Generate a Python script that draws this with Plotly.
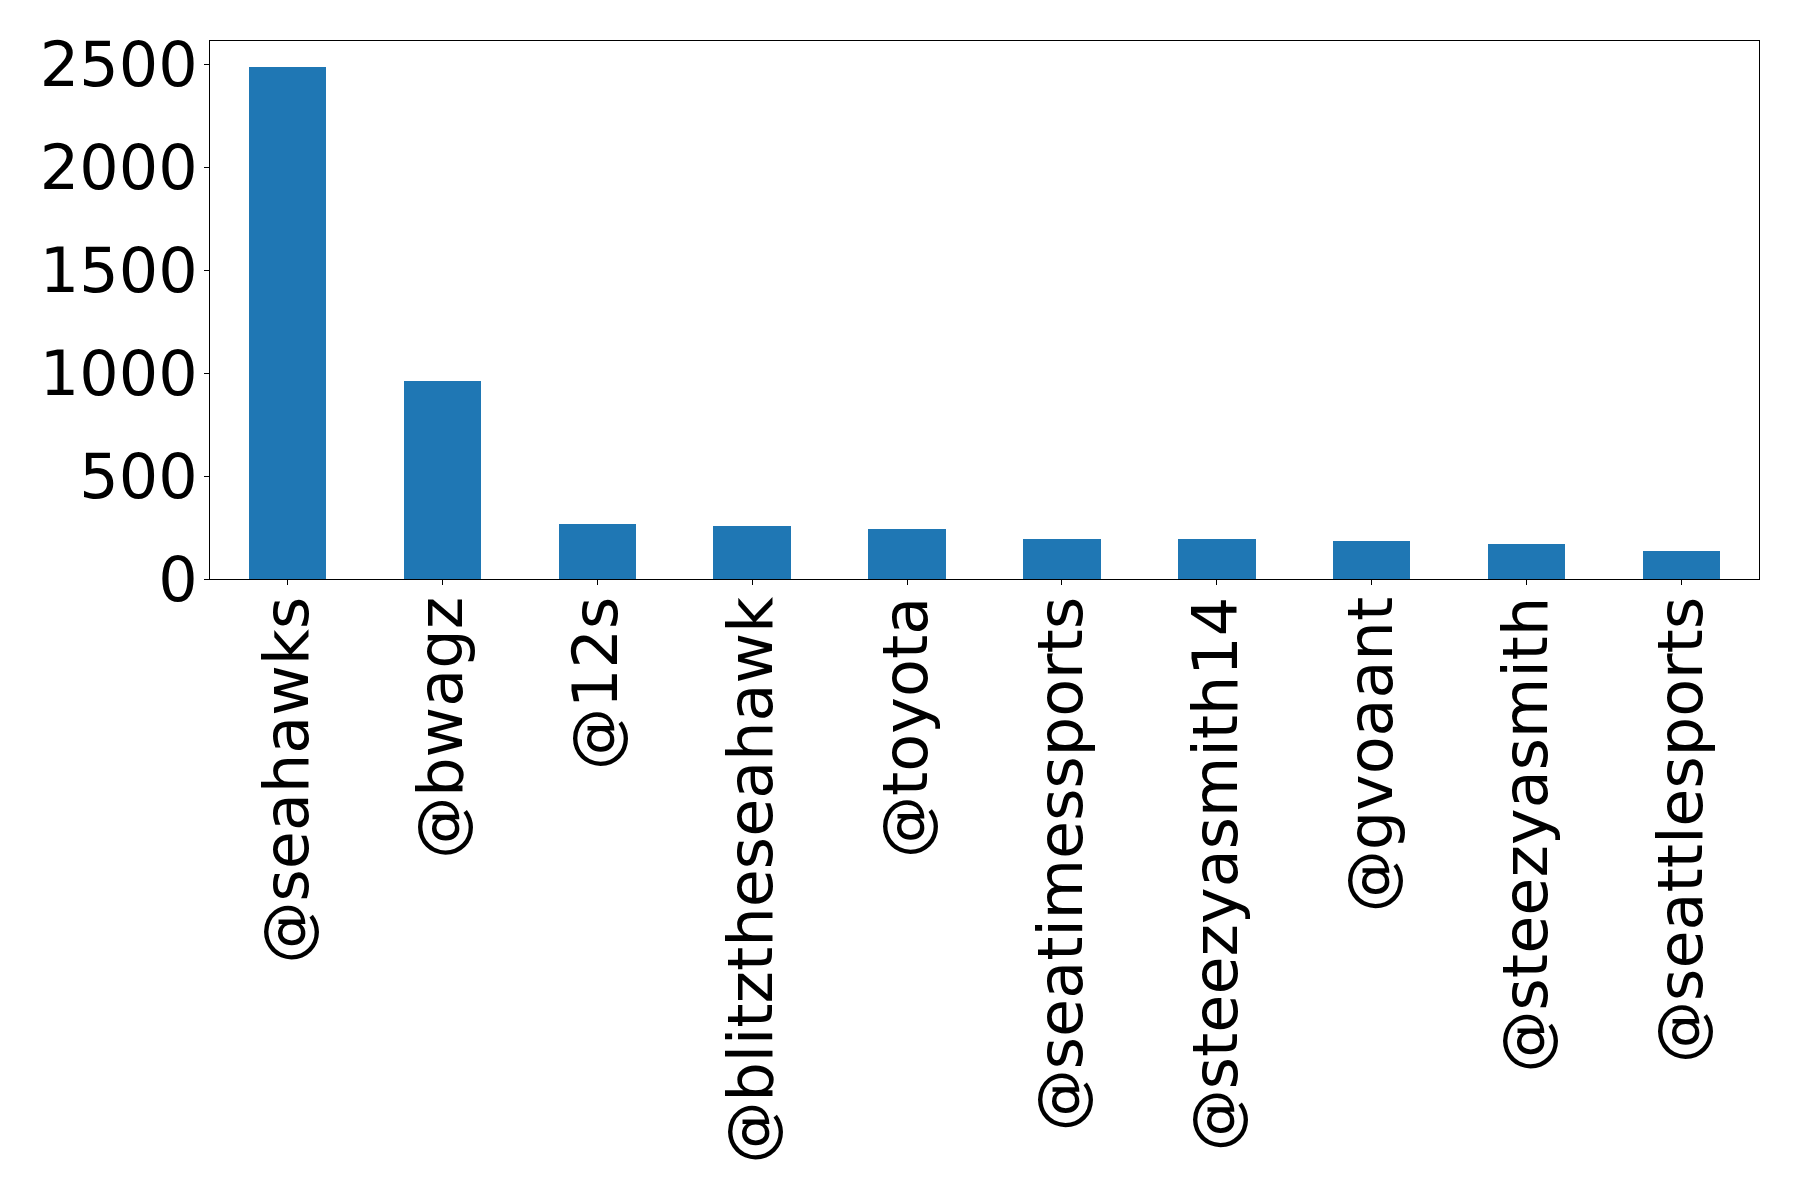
import plotly.graph_objects as go

# most mentioned accounts
accounts = ["@seahawks", "@bwagz", "@12s", "@blitztheseahawk", "@toyota",
            "@seatimessports", "@steezyasmith14", "@gvoaant", "@steezyasmith",
            "@seattlesports"]
counts = [2490, 963, 268, 257, 242, 194, 194, 184, 170, 136]

y_ticks = [0, 500, 1000, 1500, 2000, 2500]

fig = go.Figure()

fig.add_trace(go.Bar(
    x=accounts,
    y=counts,
    width=0.5,
    marker=dict(color="#1f77b4", line=dict(width=0)),
    showlegend=False
))

axis_style = dict(
    showline=True,
    linecolor="black",
    linewidth=1,
    mirror=True,
    showgrid=False,
    zeroline=False,
    ticks="outside",
    ticklen=5,
    tickwidth=1,
    tickcolor="black",
    tickfont=dict(family="DejaVu Sans", size=62, color="black"),
)

fig.update_layout(
    width=1798,
    height=1199,
    margin=dict(l=202, r=47, t=33, b=628),
    paper_bgcolor="white",
    plot_bgcolor="white",
    bargap=0,
)

fig.update_xaxes(axis_style, range=[-0.5, 9.5], tickangle=-90, ticklabelstandoff=-13)
fig.update_yaxes(axis_style, range=[0, 2614], tickvals=y_ticks, ticklabelstandoff=-6)

fig.write_html("out.html")
